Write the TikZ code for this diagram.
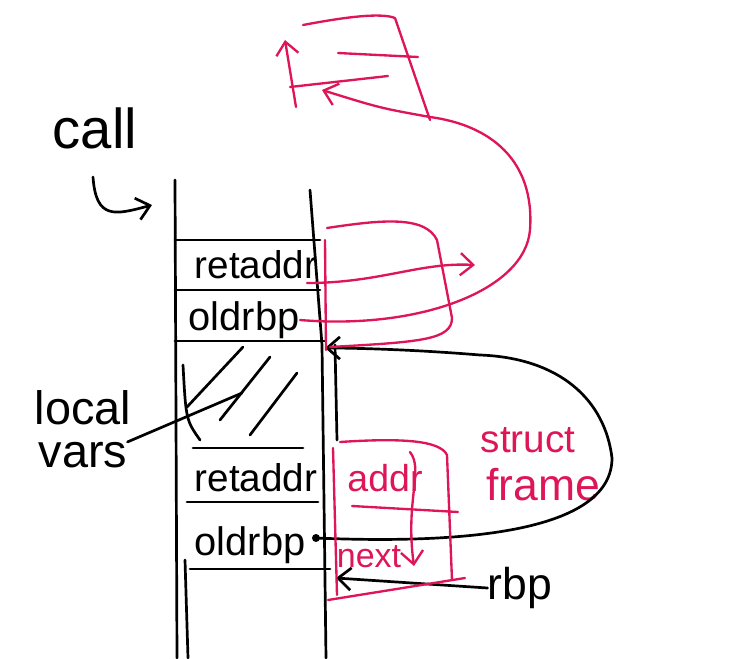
\documentclass[tikz,border=0pt]{standalone}
\usepackage{fontspec}
\setmainfont{Liberation Sans}
\usetikzlibrary{arrows.meta}
\definecolor{pinkred}{RGB}{222,22,88}
\tikzset{
  ink/.style={line width=2.3pt,line cap=round,line join=round},
  pen/.style={ink,line width=2pt,pinkred},
  barb/.style={-{Straight Barb[length=11pt,width=19pt]}},
  word/.style={inner sep=0pt,font=\fontsize{#1}{#1}\selectfont},
}
\begin{document}
\begin{tikzpicture}[x=0.03cm,y=-0.03cm]
\useasboundingbox (0,0) rectangle (742,658);
% labels
\node[word=48] (call) at (95,128) {call};
\node[word=40] (local) at (83,408) {local};
\node[word=40] (vars) at (83,455) {vars};
\node[word=33] (ret1) at (256,265) {retaddr};
\node[word=34] (old1) at (244,320) {oldrbp};
\node[word=33] (ret2) at (256,478) {retaddr};
\node[word=34] (old2) at (250,545) {oldrbp};
\node[word=32,pinkred] (addr) at (385,478) {addr};
\node[word=29,pinkred] (next) at (369,557) {next};
\node[word=33,pinkred] (struct) at (528,440) {struct};
\node[word=38,pinkred] (frame) at (543,485) {frame};
\node[word=38] (rbp) at (520,588) {rbp};
\coordinate (ctip) at (152,205);
\coordinate (lv) at (242,393);
\coordinate (ftop) at (325,348);
\coordinate (rtip) at (336,578);
\coordinate (odot) at (316,538);

% stack
\draw[ink] (175,180) -- (177,658);
\draw[ink] (310,190) -- (322,345) -- (326,658);
\draw[ink] (335,345) -- (337,440);
\draw[ink] (183,365) .. controls (186,420) .. (200,440);
\draw[ink] (185,560) -- (188,658);
\foreach \y/\a/\b in {240/175/320, 290/175/320, 341/175/325, 448/193/303, 502/187/318, 569/190/330}
  \draw[ink] (\a,\y) -- (\b,\y);
\foreach \a/\b/\c/\d in {243/347/187/407, 270/357/220/420, 297/373/250/435}
  \draw[ink] (\a,\b) -- (\c,\d);

% black arrows
\draw[ink,barb] (93,177) .. controls (96,220) and (115,215) .. (ctip);
\draw[ink] (vars.north east) -- (lv);
\fill (odot) circle (4);
\draw[ink,barb] (odot) .. controls (480,545) and (612,528) .. (612,458)
  .. controls (605,400) and (560,358) .. (480,355)
  .. controls (420,350) and (360,348) .. (ftop);
\draw[ink,barb] (rbp.west) -- (rtip);

% lower struct
\draw[pen] (333,448) -- (337,595);
\draw[pen] (340,442) .. controls (400,438) and (440,440) .. (447,455) -- (452,580);
\draw[pen] (352,506) -- (458,512);
\draw[pen] (328,600) -- (465,578);
\draw[pen,barb] (410,452) .. controls (424,470) and (405,500) .. (414,566);

% upper struct
\draw[pen] (325,240) -- (326,350);
\draw[pen] (327,228) .. controls (380,220) and (425,215) .. (437,240) -- (452,318)
  .. controls (452,340) and (420,342) .. (330,347);
\draw[pen,barb] (307,283) .. controls (380,283) and (420,262) .. (475,265);
\draw[pen,barb] (300,320) .. controls (420,330) and (525,290) .. (530,230)
  .. controls (535,160) and (490,125) .. (430,117) .. controls (380,108) .. (322,90);

% top struct
\draw[pen,barb] (296,107) -- (285,40);
\draw[pen] (303,25) .. controls (340,18) and (380,12) .. (395,18) -- (430,120);
\draw[pen] (338,53) -- (418,57);
\draw[pen] (290,87) -- (388,76);
\end{tikzpicture}
\end{document}
